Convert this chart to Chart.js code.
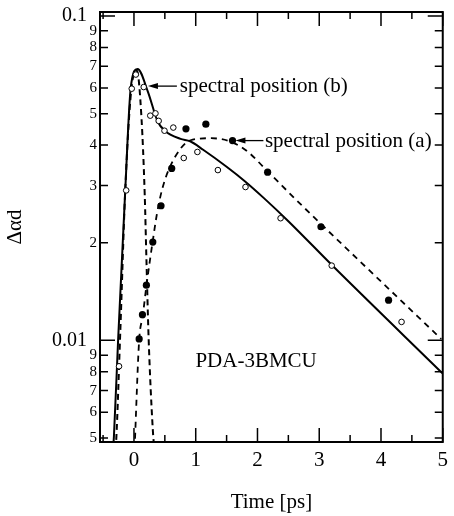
<!DOCTYPE html>
<html lang="en">
<head>
<meta charset="UTF-8">
<title>PDA-3BMCU transient absorption</title>
<script src="https://cdn.jsdelivr.net/npm/chart.js"></script>
<style>
  body { margin: 0; background: #fff; }
  #wrap { width: 454px; height: 516px; }
</style>
</head>
<body>
<div id="wrap"><canvas id="chart"></canvas></div>
<script>
// measured points, spectral position (b) - open circles
const openTime = [-0.242, -0.126, -0.036, 0.03, 0.158, 0.264, 0.348, 0.400, 0.494, 0.637, 0.806, 1.027, 1.359, 1.806, 2.374, 3.202, 4.333];
const openVal  = [0.00832, 0.0290, 0.0597, 0.066, 0.0604, 0.0493, 0.0501, 0.0475, 0.0443, 0.0453, 0.0365, 0.0381, 0.0335, 0.0297, 0.0238, 0.0170, 0.0114];

// measured points, spectral position (a) - filled circles
const filledTime = [0.084, 0.137, 0.201, 0.305, 0.438, 0.611, 0.842, 1.164, 1.596, 2.164, 3.028, 4.123];
const filledVal  = [0.0101, 0.0120, 0.0148, 0.0201, 0.0260, 0.0339, 0.0449, 0.0464, 0.0413, 0.0330, 0.0224, 0.0133];

// fit curve for (b), solid
const fitBTime = [-0.34, -0.325, -0.257, -0.142, -0.052, 0.058, 0.226, 0.384, 0.50, 0.754, 0.91, 1.12, 1.5, 1.8, 2.1, 2.5, 3.2, 5.0];
const fitBVal  = [0.0046, 0.00504, 0.0100, 0.0288, 0.0602, 0.0687, 0.0584, 0.0473, 0.0443, 0.0418, 0.0411, 0.0387, 0.0343, 0.0309, 0.0275, 0.0233, 0.0171, 0.0079];

// narrow dashed spike
const spikeTime = [-0.30, -0.289, -0.221, -0.142, -0.047, 0.047, 0.122, 0.174, 0.201, 0.237, 0.305, 0.33];
const spikeVal  = [0.0046, 0.00486, 0.0107, 0.0288, 0.0584, 0.0678, 0.0484, 0.0282, 0.0180, 0.0102, 0.0053, 0.0046];

// fit curve for (a), dashed
const fitATime = [0.01, 0.084, 0.142, 0.205, 0.300, 0.379, 0.458, 0.569, 0.758, 0.916, 1.248, 1.564, 1.833, 2.164, 2.733, 3.649, 4.976];
const fitAVal  = [0.0046, 0.0100, 0.0119, 0.0149, 0.0200, 0.0250, 0.0293, 0.0338, 0.0391, 0.0414, 0.0420, 0.0410, 0.0383, 0.0332, 0.0259, 0.0176, 0.0101];

const xTickValues = [-0.5, 0, 0.5, 1, 1.5, 2, 2.5, 3, 3.5, 4, 4.5, 5];
const xTickLabels = ['', '0', '', '1', '', '2', '', '3', '', '4', '', '5'];
const yTickValues = [0.1, 0.09, 0.08, 0.07, 0.06, 0.05, 0.04, 0.03, 0.02, 0.01, 0.009, 0.008, 0.007, 0.006, 0.005];
const yTickLabels = ['0.1', '9', '8', '7', '6', '5', '4', '3', '2', '0.01', '9', '8', '7', '6', '5'];

// annotation anchors in data units
const arrowB = { tip: [0.226, 0.0608], tail: 0.695, text: [0.742, 0.0585], label: 'spectral position (b)' };
const arrowA = { tip: [1.643, 0.0413], tail: 2.096, text: [2.12, 0.0396], label: 'spectral position (a)' };
const sampleLabel = { at: [0.995, 0.00826], text: 'PDA-3BMCU' };

const serif = '"Liberation Serif", "Times New Roman", serif';
const toPoints = (xs, ys) => xs.map((x, i) => ({ x: x, y: ys[i] }));
const isMajorY = i => yTickLabels[i].indexOf('.') >= 0;

const frameAndNotes = {
  id: 'frameAndNotes',
  afterDatasetsDraw(chart) {
    const { ctx, chartArea: a, scales: { x, y } } = chart;
    ctx.save();
    ctx.strokeStyle = '#000';
    ctx.fillStyle = '#000';
    ctx.lineWidth = 2;
    ctx.strokeRect(a.left, a.top, a.right - a.left, a.bottom - a.top);

    // inward ticks on all four sides
    ctx.lineWidth = 1.5;
    ctx.beginPath();
    xTickValues.forEach((v, i) => {
      const px = x.getPixelForValue(v);
      const len = xTickLabels[i] ? 14 : 7;
      ctx.moveTo(px, a.bottom); ctx.lineTo(px, a.bottom - len);
      ctx.moveTo(px, a.top); ctx.lineTo(px, a.top + len);
    });
    yTickValues.forEach((v, i) => {
      const py = y.getPixelForValue(v);
      const len = isMajorY(i) ? 15 : 8;
      ctx.moveTo(a.left, py); ctx.lineTo(a.left + len, py);
      ctx.moveTo(a.right, py); ctx.lineTo(a.right - len, py);
    });
    ctx.stroke();

    // arrows with labels
    ctx.font = '21px ' + serif;
    ctx.textAlign = 'left';
    ctx.textBaseline = 'alphabetic';
    [arrowB, arrowA].forEach(ar => {
      const tx = x.getPixelForValue(ar.tip[0]);
      const ty = y.getPixelForValue(ar.tip[1]);
      const ex = x.getPixelForValue(ar.tail);
      ctx.lineWidth = 1.3;
      ctx.beginPath();
      ctx.moveTo(tx + 6, ty);
      ctx.lineTo(ex, ty);
      ctx.stroke();
      ctx.beginPath();
      ctx.moveTo(tx, ty);
      ctx.lineTo(tx + 10, ty - 3);
      ctx.lineTo(tx + 10, ty + 3);
      ctx.closePath();
      ctx.fill();
      ctx.fillText(ar.label, x.getPixelForValue(ar.text[0]), y.getPixelForValue(ar.text[1]));
    });
    ctx.fillText(sampleLabel.text, x.getPixelForValue(sampleLabel.at[0]), y.getPixelForValue(sampleLabel.at[1]));
    ctx.restore();
  }
};

new Chart(document.getElementById('chart'), {
  type: 'scatter',
  data: {
    datasets: [
      {
        label: 'position (b) data',
        data: toPoints(openTime, openVal),
        pointRadius: 2.8,
        pointBackgroundColor: '#fff',
        pointBorderColor: '#000',
        pointBorderWidth: 1,
        showLine: false
      },
      {
        label: 'position (a) data',
        data: toPoints(filledTime, filledVal),
        pointRadius: 3.6,
        pointBackgroundColor: '#000',
        pointBorderColor: '#000',
        pointBorderWidth: 0,
        showLine: false
      },
      {
        label: 'fit (b)',
        data: toPoints(fitBTime, fitBVal),
        showLine: true,
        borderColor: '#000',
        borderWidth: 2,
        pointRadius: 0,
        cubicInterpolationMode: 'monotone'
      },
      {
        label: 'spike',
        data: toPoints(spikeTime, spikeVal),
        showLine: true,
        borderColor: '#000',
        borderWidth: 2,
        borderDash: [6, 4],
        pointRadius: 0,
        cubicInterpolationMode: 'monotone'
      },
      {
        label: 'fit (a)',
        data: toPoints(fitATime, fitAVal),
        showLine: true,
        borderColor: '#000',
        borderWidth: 1.8,
        borderDash: [6, 5],
        pointRadius: 0,
        cubicInterpolationMode: 'monotone'
      }
    ]
  },
  options: {
    responsive: true,
    maintainAspectRatio: false,
    animation: false,
    devicePixelRatio: 1,
    layout: { padding: { top: 10, right: 4, left: 0, bottom: 0 } },
    plugins: { legend: { display: false }, tooltip: { enabled: false } },
    scales: {
      x: {
        type: 'linear',
        min: -0.55,
        max: 5,
        afterBuildTicks: scale => { scale.ticks = xTickValues.map(v => ({ value: v })); },
        afterFit: scale => { scale.height = 74; },
        grid: { display: false, drawTicks: false },
        border: { display: false },
        ticks: {
          autoSkip: false,
          maxRotation: 0,
          padding: 6,
          color: '#000',
          font: { family: serif, size: 21 },
          callback: (v, i) => xTickLabels[i]
        },
        title: {
          display: true,
          text: 'Time [ps]',
          color: '#000',
          font: { family: serif, size: 21 },
          padding: { top: 0, bottom: 1 }
        }
      },
      y: {
        type: 'logarithmic',
        min: 0.00486,
        max: 0.1029,
        afterBuildTicks: scale => { scale.ticks = yTickValues.map(v => ({ value: v })); },
        afterFit: scale => { scale.width = 100; },
        grid: { display: false, drawTicks: false },
        border: { display: false },
        ticks: {
          autoSkip: false,
          padding: 3,
          color: '#000',
          font: c => ({ family: serif, size: isMajorY(c.index) ? 20 : 15 }),
          callback: (v, i) => isMajorY(i) ? yTickLabels[i] + '\u2002' : yTickLabels[i]
        },
        title: {
          display: true,
          text: '\u0394\u03b1d',
          color: '#000',
          font: { family: serif, size: 21 },
          padding: { top: 3, bottom: 0 }
        }
      }
    }
  },
  plugins: [frameAndNotes]
});
</script>
</body>
</html>
